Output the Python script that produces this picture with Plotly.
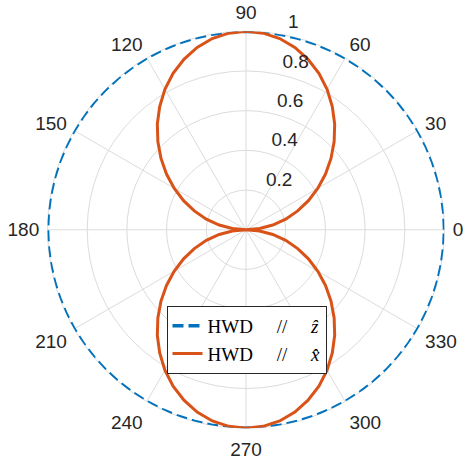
import plotly.graph_objects as go

# angles (degrees) and radii (5-degree steps)
theta_deg = [0, 5, 10, 15, 20, 25, 30, 35, 40, 45, 50, 55, 60, 65, 70, 75, 80, 85, 90,
             95, 100, 105, 110, 115, 120, 125, 130, 135, 140, 145, 150, 155, 160, 165, 170, 175, 180,
             185, 190, 195, 200, 205, 210, 215, 220, 225, 230, 235, 240, 245, 250, 255, 260, 265, 270,
             275, 280, 285, 290, 295, 300, 305, 310, 315, 320, 325, 330, 335, 340, 345, 350, 355, 360]
r_hwd_z = [1.0] * 73
r_hwd_x = [0.000, 0.069, 0.137, 0.207, 0.277, 0.347, 0.418, 0.489, 0.559, 0.628, 0.695, 0.758, 0.817, 0.869, 0.914, 0.951, 0.978, 0.994, 1.000,
           0.994, 0.978, 0.951, 0.914, 0.869, 0.817, 0.758, 0.695, 0.628, 0.559, 0.489, 0.418, 0.347, 0.277, 0.207, 0.137, 0.069, 0.000,
           0.069, 0.137, 0.207, 0.277, 0.347, 0.418, 0.489, 0.559, 0.628, 0.695, 0.758, 0.817, 0.869, 0.914, 0.951, 0.978, 0.994, 1.000,
           0.994, 0.978, 0.951, 0.914, 0.869, 0.817, 0.758, 0.695, 0.628, 0.559, 0.489, 0.418, 0.347, 0.277, 0.207, 0.137, 0.069, 0.000]
angular_ticks = [0, 30, 60, 90, 120, 150, 180, 210, 240, 270, 300, 330]
radial_ticks = [0.2, 0.4, 0.6, 0.8, 1]
radial_labels = ["0.2", "0.4", "0.6", "0.8", "1"]
radial_label_angle = 82
SP = "\u00a0"
names = ["HWD" + SP * 5 + "//" + SP * 5 + "<i>z\u0302</i>", "HWD" + SP * 5 + "//" + SP * 5 + "<i>x\u0302</i>"]

W, H = 469, 466
cx, cy, R = 246.0, 229.75, 198.5

fig = go.Figure()
fig.add_trace(go.Scatterpolar(
    r=r_hwd_z, theta=theta_deg, mode="lines", name=names[0],
    line=dict(color="#0072BD", width=3.5, dash="11px,5px"),
))
fig.add_trace(go.Scatterpolar(
    r=r_hwd_x, theta=theta_deg, mode="lines", name=names[1],
    line=dict(color="#D95319", width=3),
))
# radial tick labels (MATLAB style: up-right of the grid/axis crossing)
fig.add_trace(go.Scatterpolar(
    r=radial_ticks, theta=[radial_label_angle] * len(radial_ticks),
    mode="text", text=[SP * 2 + "\u2009" + t for t in radial_labels], textposition="top right",
    textfont=dict(family="Liberation Sans, Arial", size=19, color="#262626"),
    showlegend=False, hoverinfo="skip",
))

fig.update_layout(
    width=W, height=H,
    margin=dict(l=0, r=0, t=0, b=0),
    paper_bgcolor="white",
    font=dict(family="Liberation Sans, Arial", size=19, color="#262626"),
    polar=dict(
        domain=dict(x=[(cx - R) / W, (cx + R) / W], y=[(H - cy - R) / H, (H - cy + R) / H]),
        bgcolor="white",
        radialaxis=dict(
            range=[0, 1], tickvals=radial_ticks,
            angle=80, showticklabels=False, showline=False, ticks="",
            gridcolor="#dcdcdc", gridwidth=1, layer="below traces",
        ),
        angularaxis=dict(
            rotation=0, direction="counterclockwise",
            tickvals=angular_ticks, ticks="outside", ticklen=4, tickcolor="rgba(0,0,0,0)",
            showline=True, linecolor="#dcdcdc", layer="below traces",
            gridcolor="#dcdcdc", gridwidth=1,
            tickfont=dict(size=19, color="#262626"),
        ),
    ),
    showlegend=True,
    legend=dict(
        x=246.5 / W, xanchor="center", y=(H - 306) / H, yanchor="top",
        bgcolor="white", bordercolor="#262626", borderwidth=1,
        font=dict(family="Liberation Serif, DejaVu Serif", size=19, color="black"),
        tracegroupgap=0, itemwidth=30,
    ),
)

fig.write_html("out.html", config={"displayModeBar": False},
               post_script="document.body.style.margin='0px';")
